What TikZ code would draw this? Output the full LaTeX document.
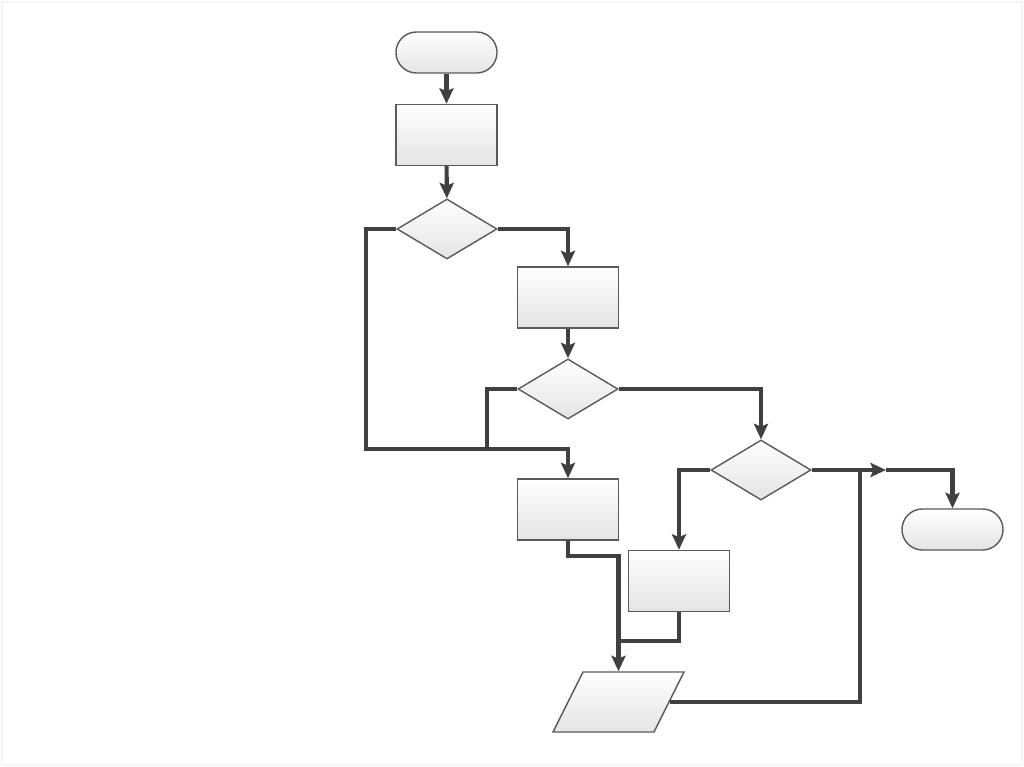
\documentclass[tikz,border=0pt]{standalone}
\usetikzlibrary{arrows.meta,shapes.misc,shapes.geometric}
\definecolor{cLINE}{HTML}{404040}
\definecolor{cEDGE}{HTML}{5A5A5A}
\definecolor{cFILL}{HTML}{E4E4E4}

\begin{document}
\begin{tikzpicture}[x=0.01cm, y=-0.01cm, >={Stealth[length=4.4pt,width=4pt,inset=0.8pt]},
  box/.style={draw=cEDGE, line width=0.4pt, top color=white, bottom color=cFILL, inner sep=0pt},
  proc/.style={box, rectangle, minimum width=1.01cm, minimum height=0.61cm},
  term/.style={box, rounded rectangle, minimum width=1.01cm, minimum height=0.41cm},
  dec/.style={box, diamond, minimum width=1cm, minimum height=0.6cm},
  io/.style={box, trapezium, trapezium left angle=63.4, trapezium right angle=116.6,
    trapezium stretches body, inner xsep=0pt, inner ysep=0.3cm, minimum width=1.31cm},
  flow/.style={draw=cLINE, line width=1.15pt}]
\useasboundingbox (0,0) rectangle (1024,767);
\draw[black!4] (2,2) rectangle (1022,765);

% blocks
\node[term] (start) at (446.5,52.5) {};
\node[proc] (getdata) at (446.5,135) {};
\node[dec] (test1) at (447,229) {};
\node[proc] (stepA) at (568,297.5) {};
\node[dec] (test2) at (568,389) {};
\node[proc] (stepB) at (568,509.5) {};
\node[dec] (test3) at (761,470) {};
\node[proc] (stepC) at (679,581) {};
\node[term] (stop) at (952.5,529.5) {};
\node[io] (output) at (618.5,702) {};

% bends and junctions
\coordinate (leftbus) at (366,449);
\coordinate (tap2) at (487,449);
\coordinate (midarrow) at (886,470);
\coordinate (merge) at (619,641);
\coordinate (loopup) at (860,470);

% connectors
\draw[flow,->] (start) -- (getdata);
\draw[flow,->] (getdata) -- (test1);
\draw[flow,->] (test1.east) -| (stepA.north);
\draw[flow,->] (test1.west) -| (leftbus) -| (stepB.north);
\draw[flow,->] (stepA) -- (test2);
\draw[flow] (test2.west) -| (tap2);
\draw[flow,->] (test2.east) -| (test3.north);
\draw[flow,->] (test3.west) -| (stepC.north);
\draw[flow,->] (test3.east) -- (midarrow);
\draw[flow,->] (midarrow) -| (stop.north);
\draw[flow,->] (stepB.south) -- ++(0,15.5) -| (output.north -| output.center);
\draw[flow] (stepC.south) |- (merge);
\draw[flow] (output.east) -| (loopup);
\end{tikzpicture}
\end{document}
